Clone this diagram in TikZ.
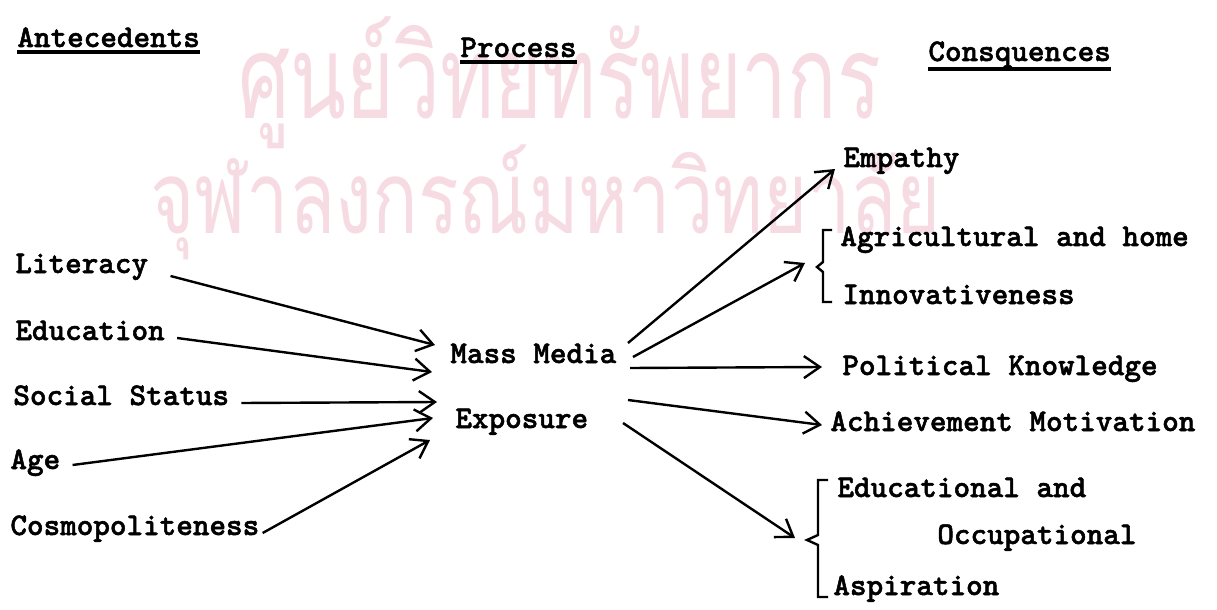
\documentclass[tikz,border=0pt]{standalone}
\usepackage{fontspec}
\usetikzlibrary{arrows.meta}
\newfontfamily\thaifont[Script=Thai]{Loma}
\newfontfamily\tw{lmmonolt10-bold}[Extension=.otf, FakeBold=1.6]
\definecolor{wm}{RGB}{246,219,227}
\begin{document}
\begin{tikzpicture}[x=0.5pt,y=-0.5pt,
  lbl/.style={font=\tw\fontsize{15.8}{18}\selectfont, inner sep=0pt, anchor=base west},
  uline/.style={line width=1.8pt},
  arr/.style={line width=1.2pt, -{Straight Barb[length=8pt,width=11pt,line width=1.2pt]}},
  brk/.style={line width=1.2pt, line join=miter},
  wmark/.style={text=wm, inner sep=0pt, anchor=base west}]
\useasboundingbox (0,0) rectangle (1217,610);
% watermark
\node[wmark] (wm1) at (238,119) {\scalebox{0.93}[1.32]{\thaifont\fontsize{44}{50}\selectfont ศูนย์วิทยทรัพยากร}};
\node[wmark] (wm2) at (150,234) {\scalebox{0.86}[1.15]{\thaifont\fontsize{44}{50}\selectfont จุฬาลงกรณ์มหาวิทยาลัย}};
% titles
\node[lbl] (ant) at (17,47) {Antecedents};
\node[lbl] (pro) at (460,57) {Process};
\node[lbl] (con) at (928,61) {Consquences};
\draw[uline] ([yshift=-2.4pt]ant.base west) -- ([yshift=-2.4pt]ant.base east);
\draw[uline] ([yshift=-2.4pt]pro.base west) -- ([yshift=-2.4pt]pro.base east);
\draw[uline] ([yshift=-4pt]con.base west) -- ([yshift=-4pt]con.base east);
% antecedents
\node[lbl] (lit) at (15,273) {Literacy};
\node[lbl] (edu) at (15,340) {Education};
\node[lbl] (soc) at (13,405) {Social Status};
\node[lbl] (age) at (10,469) {Age};
\node[lbl] (cos) at (10,535) {Cosmopoliteness};
% process
\node[lbl] (mm) at (450,363) {Mass Media};
\node[lbl] (exp) at (455,428) {Exposure};
% consequences
\node[lbl] (emp) at (843,167) {Empathy};
\node[lbl] (agr) at (840,246) {Agricultural and home};
\node[lbl] (inn) at (842,304) {Innovativeness};
\node[lbl] (pol) at (842,375) {Political Knowledge};
\node[lbl] (ach) at (830,431) {Achievement Motivation};
\node[lbl] (edo) at (837,497) {Educational and};
\node[lbl] (occ) at (937,544) {Occupational};
\node[lbl] (asp) at (833,595) {Aspiration};
% arrow tips and free ends
\coordinate (t1) at (435,345);
\coordinate (t2) at (432,372);
\coordinate (t3) at (437,402);
\coordinate (t4) at (433,418);
\coordinate (t5) at (430,440);
\coordinate (s1) at (628,343);
\coordinate (s2) at (633,357);
\coordinate (s3) at (630,368);
\coordinate (s4) at (628,400);
\coordinate (s5) at (623,423);
\coordinate (b1) at (817,267);
\coordinate (b2) at (807,540);
% left arrows
\draw[arr] ([shift={(22,3)}]lit.base east) -- (t1);
\draw[arr] ([shift={(12,-2)}]edu.base east) -- (t2);
\draw[arr] ([shift={(12,-2)}]soc.base east) -- (t3);
\draw[arr] ([shift={(12,-4)}]age.base east) -- (t4);
\draw[arr] ([shift={(3,-2)}]cos.base east) -- (t5);
% right arrows
\draw[arr] (s1) -- ([shift={(-8,2)}]emp.base west);
\draw[arr] (s2) -- ([shift={(-12,-4)}]b1);
\draw[arr] (s3) -- ([shift={(-20,-8)}]pol.base west);
\draw[arr] (s4) -- ([shift={(-8,-6)}]ach.base west);
\draw[arr] (s5) -- ([shift={(-12,-2)}]b2);
% brackets
\draw[brk] (832,230) -- (823,230) -- (823,262) -- (b1) -- (823,272) -- (823,302) -- (832,302);
\draw[brk] (828,480) -- (818,480) -- (818,535) -- (b2) -- (818,545) -- (818,597) -- (828,597);
\end{tikzpicture}
\end{document}
